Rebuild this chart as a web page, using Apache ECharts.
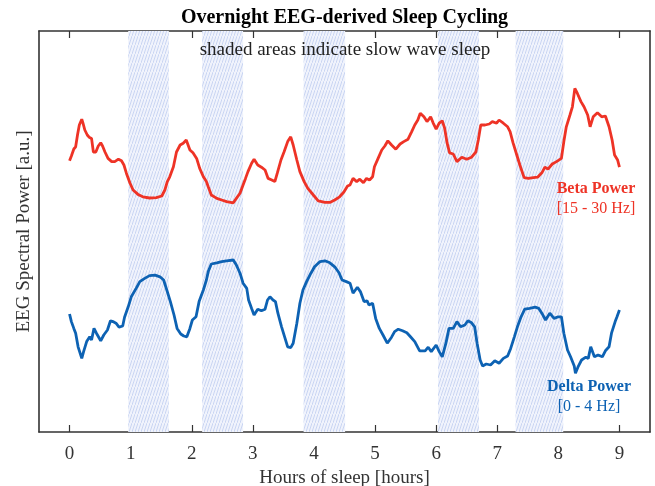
<!DOCTYPE html>
<html>
<head>
<meta charset="utf-8">
<script src="https://cdn.jsdelivr.net/npm/echarts@6/dist/echarts.min.js"></script>
<style>
  html, body { margin: 0; padding: 0; background: #fff; }
  #chart { width: 655px; height: 486px; }
</style>
</head>
<body>
<div id="chart"></div>
<script>
// hours of sleep, tick positions
var hourTicks = [0, 1, 2, 3, 4, 5, 6, 7, 8, 9];

// slow wave sleep periods [start, end] in hours
var swsPeriods = [[0.96, 1.625], [2.17, 2.84], [3.83, 4.51], [6.03, 6.70], [7.30, 8.08]];

// beta power (15 - 30 Hz)
var betaHours = [0, 0.03, 0.07, 0.10, 0.13, 0.16, 0.20, 0.22, 0.25, 0.29, 0.32, 0.36, 0.39, 0.43, 0.47, 0.51, 0.54, 0.58, 0.63, 0.69,
    0.74, 0.80, 0.85, 0.89, 0.93, 0.99, 1.04, 1.12, 1.20, 1.31, 1.42, 1.51, 1.56, 1.60, 1.64, 1.70, 1.75, 1.81, 1.86, 1.91,
    1.97, 2.02, 2.08, 2.13, 2.19, 2.24, 2.27, 2.32, 2.41, 2.49, 2.57, 2.68, 2.73, 2.79, 2.84, 2.88, 2.92, 2.98, 3.02, 3.08,
    3.14, 3.20, 3.25, 3.31, 3.36, 3.40, 3.46, 3.51, 3.57, 3.62, 3.66, 3.72, 3.77, 3.84, 3.90, 3.99, 4.07, 4.18, 4.26, 4.34,
    4.42, 4.49, 4.55, 4.59, 4.64, 4.70, 4.75, 4.81, 4.86, 4.91, 4.96, 4.99, 5.05, 5.11, 5.16, 5.21, 5.27, 5.34, 5.41, 5.47,
    5.54, 5.60, 5.65, 5.70, 5.74, 5.80, 5.85, 5.91, 5.95, 6.00, 6.05, 6.10, 6.14, 6.18, 6.22, 6.28, 6.34, 6.42, 6.50, 6.58,
    6.65, 6.69, 6.73, 6.80, 6.87, 6.92, 6.99, 7.03, 7.10, 7.17, 7.21, 7.26, 7.32, 7.37, 7.44, 7.51, 7.59, 7.66, 7.73, 7.78,
    7.83, 7.90, 7.97, 8.05, 8.09, 8.13, 8.19, 8.23, 8.27, 8.31, 8.37, 8.42, 8.48, 8.52, 8.57, 8.64, 8.71, 8.77, 8.83, 8.88,
    8.92, 8.97, 9.00];
var betaValues = [67.8, 69, 70.75, 71.3, 74.25, 76.75, 78.2, 77.2, 75.5, 74.25, 73.7, 73.4, 70, 70, 71.5, 72.3, 71.5, 70, 68.4, 67.6,
    67.6, 68.2, 67.8, 66.75, 64.7, 62.2, 60.5, 59.4, 58.8, 58.5, 58.6, 59, 60.5, 62.6, 63.8, 66.3, 70, 71.75, 72.2, 73,
    70.5, 69.8, 68.4, 65.9, 63.8, 62.6, 61.3, 59.25, 58.4, 58, 57.6, 57.3, 58.4, 59.7, 61.75, 63.4, 65.1, 67.2, 68.2, 66.75,
    66.2, 65.5, 63.4, 63, 62.6, 64.7, 68, 70, 72.6, 73.8, 71.75, 68, 65.1, 62.6, 60.9, 59.25, 57.8, 57.4, 57.4, 58,
    58.8, 60, 61.5, 61.75, 63.4, 62.6, 63.2, 62.3, 63.4, 63, 63.8, 66.3, 68.4, 70.5, 71.5, 72.8, 71.75, 70.7, 72, 72.6,
    73.2, 75.1, 76.75, 78, 79.7, 78.8, 77.6, 78.8, 77.3, 75.7, 77.2, 77.8, 75.9, 72.2, 69.8, 69.5, 67.6, 68.7, 68.2, 68.7,
    70, 73, 76.75, 76.75, 77, 77.6, 77.2, 78, 77.2, 76.3, 75.1, 72.2, 69.25, 66.75, 63.6, 63.4, 63.6, 63.7, 64.8, 66.2,
    65.7, 67, 67.6, 68.4, 72.6, 76.3, 79.25, 81.3, 85.9, 84.7, 82.6, 81.3, 79.25, 76.3, 78.8, 79.8, 78.8, 79, 76.3, 73,
    69.25, 68, 66.2];

// delta power (0 - 4 Hz)
var deltaHours = [0, 0.03, 0.07, 0.10, 0.14, 0.20, 0.23, 0.28, 0.33, 0.36, 0.40, 0.44, 0.51, 0.56, 0.62, 0.67, 0.71, 0.76, 0.81, 0.87,
    0.90, 0.96, 1.01, 1.09, 1.15, 1.23, 1.31, 1.40, 1.48, 1.54, 1.60, 1.65, 1.71, 1.76, 1.82, 1.87, 1.92, 1.97, 2.01, 2.07,
    2.12, 2.19, 2.24, 2.27, 2.32, 2.41, 2.49, 2.57, 2.68, 2.73, 2.79, 2.84, 2.90, 2.93, 2.98, 3.02, 3.08, 3.14, 3.20, 3.24,
    3.28, 3.33, 3.37, 3.41, 3.47, 3.52, 3.57, 3.62, 3.66, 3.72, 3.77, 3.82, 3.88, 3.95, 4.01, 4.10, 4.18, 4.26, 4.34, 4.41,
    4.46, 4.53, 4.59, 4.64, 4.71, 4.76, 4.82, 4.87, 4.90, 4.96, 5.01, 5.07, 5.13, 5.20, 5.23, 5.27, 5.32, 5.38, 5.45, 5.52,
    5.58, 5.65, 5.73, 5.82, 5.87, 5.92, 6.00, 6.05, 6.10, 6.16, 6.21, 6.28, 6.34, 6.40, 6.47, 6.52, 6.58, 6.63, 6.67, 6.72,
    6.76, 6.82, 6.89, 6.96, 7.03, 7.10, 7.17, 7.22, 7.28, 7.33, 7.39, 7.45, 7.53, 7.62, 7.68, 7.73, 7.79, 7.86, 7.93, 8.00,
    8.05, 8.09, 8.15, 8.20, 8.26, 8.28, 8.32, 8.38, 8.45, 8.49, 8.53, 8.59, 8.65, 8.72, 8.77, 8.83, 8.87, 8.93, 8.96, 9.00];
var deltaValues = [29.5, 27.6, 25.9, 24.7, 21.3, 18.4, 20.1, 22.6, 23.8, 23, 25.9, 24.7, 22.8, 24.25, 25.5, 27.8, 27.6, 27.2, 26.2, 26.5,
    28.7, 31.3, 33.8, 35.9, 37.6, 38.4, 39.1, 39.2, 38.8, 38, 35.1, 32.6, 29.25, 25.9, 24.5, 24, 23.8, 25.9, 28, 28.8,
    32.6, 35.5, 38, 40.1, 42, 42.3, 42.6, 42.8, 43, 41.75, 39.7, 37.2, 35.9, 33, 30.9, 29.25, 30.7, 30.3, 30.7, 33,
    33.8, 33, 32.6, 29.7, 26.3, 23.8, 21.3, 21.1, 22.2, 27.2, 32.2, 35.5, 37.6, 39.7, 41.3, 42.6, 42.8, 42.3, 41.3, 39.8,
    38, 37.6, 37.2, 34.7, 36.2, 35.1, 32.6, 32.8, 31.75, 32.2, 28.4, 25.9, 24.25, 22.2, 21.75, 23.7, 25.1, 25.7, 25.3, 24.8,
    23.8, 22.6, 20.3, 20.3, 21.2, 20.1, 21.75, 20.1, 18.8, 22.2, 25.9, 25.9, 27.6, 26.3, 26.75, 27.8, 27.3, 26.3, 22.2, 18,
    16.5, 17, 16.75, 17.8, 17.2, 18.4, 19, 20.9, 23.8, 26.3, 28.8, 30.7, 30.9, 31.2, 30.9, 29.7, 28, 29.7, 28.4, 28.8,
    28.8, 24.7, 20.5, 18.8, 16.5, 14.7, 16.2, 18, 18.7, 18.4, 21.3, 18.8, 19.25, 18.8, 20.3, 21.3, 24.7, 27.6, 28.8, 30.5];

function zip(xs, ys) {
    return xs.map(function (x, i) { return [x, ys[i]]; });
}

// hatch pattern for the shaded areas
function makeHatch() {
    var c = document.createElement('canvas');
    c.width = 3;
    c.height = 9;
    var ctx = c.getContext('2d');
    ctx.fillStyle = '#f0f3fc';
    ctx.fillRect(0, 0, 3, 9);
    ctx.strokeStyle = '#c4d1f0';
    ctx.lineWidth = 0.9;
    ctx.beginPath();
    ctx.moveTo(-1, 12);
    ctx.lineTo(4, -3);
    ctx.stroke();
    return c;
}

var RED = '#ee3326';
var BLUE = '#0d62b3';
var FONT = '"Liberation Serif", "DejaVu Serif", serif';

var chart = echarts.init(document.getElementById('chart'));

var axisLineStyle = { color: '#333', width: 1.6 };

function label(text, x, y, font, color) {
    return {
        type: 'text',
        x: x, y: y,
        z: 100,
        style: { text: text, font: font, fill: color, align: 'center', verticalAlign: 'middle' }
    };
}

var option = {
    animation: false,
    textStyle: { fontFamily: FONT },
    grid: { left: 39, right: 5, top: 31, bottom: 54, containLabel: false, outerBoundsMode: 'none' },
    xAxis: [{
        type: 'value',
        min: -0.5,
        max: 9.5,
        axisLine: { onZero: false, lineStyle: axisLineStyle },
        axisTick: { show: true, inside: true, length: 7, customValues: hourTicks, lineStyle: { color: '#333', width: 1.2 } },
        axisLabel: { customValues: hourTicks, fontSize: 19, color: '#333', margin: 13, fontFamily: FONT },
        splitLine: { show: false },
        name: 'Hours of sleep [hours]',
        nameLocation: 'middle',
        nameGap: 35,
        nameTextStyle: { fontSize: 19, color: '#333', fontFamily: FONT }
    }, {
        type: 'value',
        position: 'top',
        min: -0.5,
        max: 9.5,
        axisLine: { onZero: false, lineStyle: axisLineStyle },
        axisTick: { show: true, inside: true, length: 7, customValues: hourTicks, lineStyle: { color: '#333', width: 1.2 } },
        axisLabel: { show: false },
        splitLine: { show: false }
    }],
    yAxis: [{
        type: 'value',
        min: 0,
        max: 100.25,
        axisLine: { show: true, onZero: false, lineStyle: axisLineStyle },
        axisTick: { show: false },
        axisLabel: { show: false },
        splitLine: { show: false },
        name: 'EEG Spectral Power [a.u.]',
        nameLocation: 'middle',
        nameGap: 5,
        nameTextStyle: { fontSize: 19, color: '#333', fontFamily: FONT }
    }, {
        type: 'value',
        position: 'right',
        min: 0,
        max: 100.25,
        axisLine: { show: true, onZero: false, lineStyle: axisLineStyle },
        axisTick: { show: false },
        axisLabel: { show: false },
        splitLine: { show: false }
    }],
    graphic: [
        label('Overnight EEG-derived Sleep Cycling', 344.5, 18, 'bold 20px ' + FONT, '#000'),
        label('shaded areas indicate slow wave sleep', 345, 50, '19px ' + FONT, '#222'),
        label('Beta Power', 596, 189, 'bold 16px ' + FONT, RED),
        label('[15 - 30 Hz]', 596, 209, '16px ' + FONT, RED),
        label('Delta Power', 589, 387, 'bold 16px ' + FONT, BLUE),
        label('[0 - 4 Hz]', 589, 407, '16px ' + FONT, BLUE)
    ],
    series: [{
        name: 'Beta Power',
        type: 'line',
        data: zip(betaHours, betaValues),
        showSymbol: false,
        lineStyle: { color: RED, width: 2.8 },
        z: 3,
        markArea: {
            silent: true,
            itemStyle: { color: { image: makeHatch(), repeat: 'repeat' } },
            data: swsPeriods.map(function (p) { return [{ xAxis: p[0] }, { xAxis: p[1] }]; })
        }
    }, {
        name: 'Delta Power',
        type: 'line',
        data: zip(deltaHours, deltaValues),
        showSymbol: false,
        lineStyle: { color: BLUE, width: 2.8 },
        z: 3
    }]
};

chart.setOption(option);
</script>
</body>
</html>
